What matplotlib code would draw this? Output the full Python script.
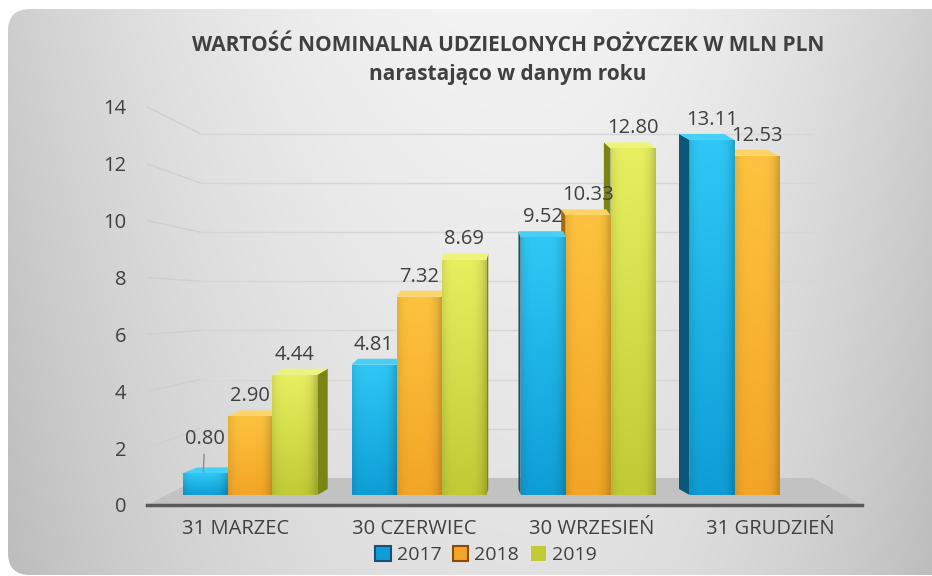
import numpy as np
import matplotlib
matplotlib.use("Agg")
import matplotlib.pyplot as plt
from matplotlib.patches import Polygon, FancyBboxPatch, Patch
from matplotlib.colors import to_rgb

# ---------------- data ----------------
categories = ["31 MARZEC", "30 CZERWIEC", "30 WRZESIEŃ", "31 GRUDZIEŃ"]
years = ["2017", "2018", "2019"]
v2017 = [0.80, 4.81, 9.52, 13.11]
v2018 = [2.90, 7.32, 10.33, 12.53]
v2019 = [4.44, 8.69, 12.80, None]
yticks = [0, 2, 4, 6, 8, 10, 12, 14]
title = "WARTOŚĆ NOMINALNA UDZIELONYCH POŻYCZEK W MLN PLN\nnarastająco w danym roku"

series = [v2017, v2018, v2019]
# (top colour, bottom colour, side colour, top-face colour, legend edge)
styles = [
    ("#2fc8f6", "#0e9ed6", "#0a5676", "#46d0f6", "#1b4f78"),
    ("#fdc33e", "#f3a526", "#a36a0c", "#ffd466", "#8a4a08"),
    ("#e7f05f", "#c1cb36", "#7a8514", "#eef47a", None),
]

TXT = "#404040"
FONT = ["Open Sans", "DejaVu Sans"]
plt.rcParams["font.family"] = FONT
FS = 14.5

W, H = 932, 576
fig = plt.figure(figsize=(W / 100, H / 100), dpi=100)
fig.patch.set_facecolor("white")

# ---------------- background panel ----------------
bg = fig.add_axes([0, 0, 1, 1])
bg.set_xlim(0, W)
bg.set_ylim(H, 0)
bg.axis("off")
xx, yy = np.meshgrid(np.arange(W), np.arange(H))
u = np.where(xx < 520, (xx - 520) / 520.0, (xx - 520) / 420.0)
val = 0.955 - 0.15 * u ** 2 - 0.07 * (yy / H)
img = np.dstack([val, val, val])
panel = FancyBboxPatch((8, 9), 980, 566, boxstyle="round,pad=0,rounding_size=22",
                       facecolor="none", edgecolor="none", transform=bg.transData)
bg.add_patch(panel)
im = bg.imshow(img, extent=[0, W, H, 0], aspect="auto", interpolation="bilinear")
im.set_clip_path(panel)
bg.set_xlim(0, W)
bg.set_ylim(H, 0)

# ---------------- main axes ----------------
ax = fig.add_axes([147 / W, (H - 505) / H, (862 - 147) / W, (505 - 105) / H])
ax.patch.set_alpha(0)
XL = (-0.6095, 3.621)
YL = (-0.37, 14.4)

# floor
floor = Polygon([(XL[0], YL[0]), (XL[1], YL[0]), (3.331, 0.628), (-0.296, 0.628)],
                closed=True, facecolor="#c2c2c2", edgecolor="none", zorder=1)
ax.add_patch(floor)

# walls / grid lines (back wall scaled by perspective)
for v in yticks[1:]:
    yb = 0.628 + 0.908 * v
    yf = -0.369 + 1.05 * v
    ax.plot([XL[0], -0.296], [yf, yb], color="#cfcfcf", lw=1, zorder=0.5)
    ax.plot([-0.296, 3.331], [yb, yb], color="#d6d6d6", lw=1, zorder=0.5)

bw = 0.266
vx = 1.48
dy = 0.22
for j, vals in enumerate(series):
    top_c, bot_c, side_c, cap_c, _ = styles[j]
    xs = [i + (j - 1) * bw for i, v in enumerate(vals) if v is not None]
    hs = [v for v in vals if v is not None]
    bars = ax.bar(xs, hs, width=bw, color=bot_c, edgecolor="none", zorder=4)
    for rect, xc, h in zip(bars, xs, hs):
        x0 = rect.get_x()
        x1 = x0 + bw
        dx = 0.05 * (vx - xc)
        # side face
        sx = x1 if dx > 0 else x0
        ax.add_patch(Polygon([(sx, 0), (sx, h), (sx + dx, h + dy), (sx + dx, dy)],
                             closed=True, facecolor=side_c, edgecolor="none", zorder=3))
        # top face
        ax.add_patch(Polygon([(x0, h), (x1, h), (x1 + dx, h + dy), (x0 + dx, h + dy)],
                             closed=True, facecolor=cap_c, edgecolor="none", zorder=3.5))
        # gradient front
        ny, nx = 60, 20
        t = np.linspace(0, 1, ny).reshape(-1, 1)
        uu = np.linspace(0, 1, nx).reshape(1, -1)
        m = 1 - 0.18 * (np.abs(uu - 0.45) / 0.55) ** 4
        c0 = np.array(to_rgb(bot_c))
        c1 = np.array(to_rgb(top_c))
        grad = (c0[None, None, :] * (1 - t[..., None]) + c1[None, None, :] * t[..., None])
        grad = np.clip(grad * m[..., None], 0, 1)
        gi = ax.imshow(grad, extent=[x0, x1, 0, h], origin="lower", aspect="auto",
                       interpolation="bilinear", zorder=4.2)
        gi.set_clip_path(rect)
        # data label
        if h < 1.5:
            ax.annotate(f"{h:.2f}", (xc - 0.01, h + 0.05), xytext=(1, 24),
                        textcoords="offset points",
                        ha="center", va="center", fontsize=FS, color=TXT, zorder=6,
                        arrowprops=dict(arrowstyle="-", color="#8c8c8c", lw=1,
                                        shrinkA=2, shrinkB=0))
        else:
            ax.annotate(f"{h:.2f}", (xc, h), xytext=(0, 14.5), textcoords="offset points",
                        ha="center", va="center", fontsize=FS, color=TXT, zorder=6)

ax.set_xlim(*XL)
ax.set_ylim(*YL)

# axes styling
for s in ["left", "right", "top"]:
    ax.spines[s].set_visible(False)
ax.spines["bottom"].set_color("#595959")
ax.spines["bottom"].set_linewidth(2.5)
ax.spines["bottom"].set_zorder(5)
ax.set_yticks([])
# category labels sit on the front edge of the floor (perspective spread)
ax.set_xticks([1.5 + (i - 1.5) * 1.053 - 0.003 for i in range(len(categories))])
ax.set_xticklabels(categories, fontsize=FS, color=TXT)
ax.tick_params(axis="x", length=0, pad=10)

# front-wall value axis (perspective front scale)
def fwd(p):
    return (10 + 27.08 * np.asarray(p)) / 28.43

def inv(s):
    return (28.43 * np.asarray(s) - 10) / 27.08

sec = ax.secondary_yaxis("left", functions=(fwd, inv))
sec.set_yticks(yticks)
sec.set_yticklabels([str(v) for v in yticks], fontsize=FS, color=TXT)
sec.tick_params(length=0, pad=15)
sec.spines["left"].set_visible(False)

# title
fig.text(508 / W, 1 - 60 / H, title, ha="center", va="center", fontsize=15,
         fontweight="bold", color=TXT, linespacing=1.5)

# legend
handles = []
for j, y in enumerate(years):
    edge = styles[j][4]
    handles.append(Patch(facecolor=styles[j][1], edgecolor=edge if edge else styles[j][1],
                         linewidth=1.5 if edge else 0, label=y))
leg = fig.legend(handles=handles, loc="center", bbox_to_anchor=(486 / W, 1 - 555 / H),
                 ncol=3, frameon=True, fontsize=14, handlelength=0.8, handleheight=0.8,
                 handletextpad=0.3, columnspacing=0.6, borderpad=0.25, borderaxespad=0)
leg.get_frame().set_facecolor("#e2e2e2")
leg.get_frame().set_alpha(0.6)
leg.get_frame().set_edgecolor("none")
for t in leg.get_texts():
    t.set_color(TXT)

fig.savefig("out.png", dpi=100, facecolor="white")
